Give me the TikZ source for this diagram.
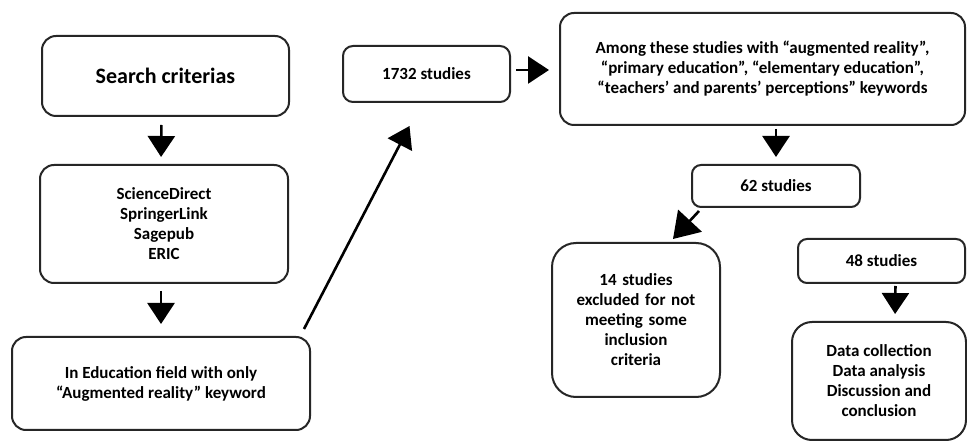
\documentclass[tikz,border=0pt]{standalone}
\usepackage{fontspec}
\setmainfont{Carlito}
\usetikzlibrary{arrows.meta,calc}
\begin{document}
\begin{tikzpicture}[x=1pt,y=-1pt,
  box/.style={draw=black!85,line width=2pt,rounded corners=14pt,align=center,
    font=\bfseries\fontsize{17}{20}\selectfont,inner sep=1pt},
  arr/.style={line width=2.6pt,-{Triangle[width=27pt,length=21pt]}},
  bigarr/.style={line width=2.6pt,-{Triangle[width=32pt,length=25pt]}}]
\useasboundingbox[fill=white] (0,0) rectangle (967,443);
\node[box,minimum width=247pt,minimum height=80pt,font=\bfseries\fontsize{22}{26}\selectfont] (search) at (165.5,76) {Search criterias};
\node[box,minimum width=248pt,minimum height=118pt] (db) at (164,224) {ScienceDirect\\SpringerLink\\Sagepub\\ERIC};
\node[box,minimum width=298pt,minimum height=93pt] (edu) at (161,383.5) {In Education field with only\\“Augmented reality” keyword};
\node[box,minimum width=167pt,minimum height=56pt,rounded corners=10pt] (n1732) at (426.5,74) {1732 studies};
\node[box,minimum width=405pt,minimum height=112pt] (among) at (762.5,69) {Among these studies with “augmented reality”,\\“primary education”, “elementary education”,\\“teachers’ and parents’ perceptions” keywords};
\node[box,minimum width=168pt,minimum height=42pt,rounded corners=9pt] (n62) at (776,186) {62 studies};
\node[box,minimum width=168pt,minimum height=154pt,rounded corners=24pt,text width=150pt] (n14) at (636,320) {14 studies\\excluded for not\\meeting some\\inclusion\\criteria};
\node[box,minimum width=167pt,minimum height=44pt,rounded corners=9pt] (n48) at (881.5,261) {48 studies};
\node[box,minimum width=174pt,minimum height=118pt,rounded corners=20pt] (data) at (879,381) {Data collection\\Data analysis\\Discussion and\\conclusion};
\draw[arr,shorten <=8pt,shorten >=7pt] ([xshift=-4pt]search.south) -- ([xshift=-3pt]db.north);
\draw[arr,shorten <=7pt,shorten >=12pt] ([xshift=-3pt]db.south) -- (edu.north);
\draw[arr] ([xshift=-7pt,yshift=7pt]edu.north east) -- ([xshift=-17pt,yshift=-23pt]n1732.south);
\draw[arr] ([xshift=5pt,yshift=4pt]n1732.east) -- ([xshift=-10pt]among.west |- 0,70);
\draw[arr,shorten <=3pt,shorten >=7pt] (among.south -| n62) -- (n62.north);
\draw[bigarr] ([xshift=8pt,yshift=-3pt]n62.south west) -- ([xshift=122pt,yshift=3pt]n14.north west);
\draw[arr,shorten <=2pt,shorten >=7pt] ([xshift=14pt]n48.south) -- ([xshift=16pt]data.north);
\end{tikzpicture}
\end{document}
